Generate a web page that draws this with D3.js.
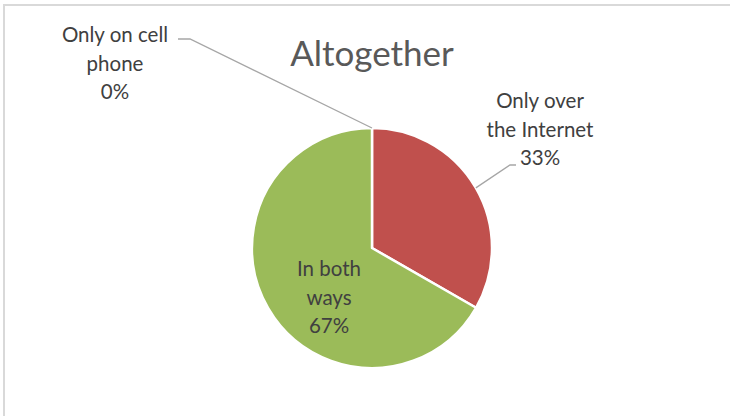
<!DOCTYPE html>
<html lang="en">
<head>
    <meta charset="UTF-8">
    <title>Altogether</title>
    <style>
        body { margin: 0; background: #fff; }
        svg { display: block; }
    </style>
</head>
<body>
    <svg id="pie-chart"></svg>

    <script src="https://d3js.org/d3.v7.min.js"></script>
    <script>
// chart data
const categories = ["Only over the Internet", "In both ways", "Only on cell phone"];
const values = [33.3, 66.7, 0];
const labelLines = [["Only over", "the Internet"], ["In both", "ways"], ["Only on cell", "phone"]];
const colors = ["#C0504D", "#9BBB59", "#4F81BD"];

const width = 730;
const height = 416;
const cx = 372, cy = 248;
const radius = 120;
const font = "Lato, 'Open Sans', sans-serif";

const svg = d3.select("#pie-chart")
    .attr("width", width)
    .attr("height", height);

// chart frame (light gray top and left edge)
svg.append("path")
    .attr("d", `M4,${height} V5 H${width}`)
    .attr("fill", "none")
    .attr("stroke", "#d9d9d9")
    .attr("stroke-width", 2);

svg.append("text")
    .attr("x", cx)
    .attr("y", 52)
    .attr("text-anchor", "middle")
    .attr("dominant-baseline", "central")
    .style("font-family", font)
    .style("font-size", "35px")
    .style("fill", "#595959")
    .text("Altogether");

const data = categories.map((c, i) => ({ name: c, value: values[i], lines: labelLines[i], color: colors[i] }));
const total = d3.sum(values);

const pie = d3.pie().sort(null).value(d => d.value);
const arc = d3.arc().innerRadius(0).outerRadius(radius);

const g = svg.append("g").attr("transform", `translate(${cx},${cy})`);

const arcs = pie(data);

g.selectAll("path.slice")
    .data(arcs.filter(d => d.value > 0))
    .enter()
    .append("path")
    .attr("class", "slice")
    .attr("d", arc)
    .attr("fill", d => d.data.color)
    .attr("stroke", "#fff")
    .attr("stroke-width", 2.5)
    .attr("stroke-linejoin", "round");

// label placement (relative to pie centre)
const placement = {
    "Only over the Internet": { x: 168, y: -148, leader: [[138, -83], [144, -83]] },
    "In both ways": { x: -43, y: 20, leader: null },
    "Only on cell phone": { x: -257, y: -214, leader: [[-182, -209], [-194, -209]] }
};

const lineGap = 28.5;

arcs.forEach(d => {
    const p = placement[d.data.name];
    const pct = Math.round(d.value / total * 100) + "%";
    const lines = d.data.lines.concat([pct]);

    if (p.leader) {
        const mid = (d.startAngle + d.endAngle) / 2;
        const start = [Math.sin(mid) * radius, -Math.cos(mid) * radius];
        g.append("path")
            .attr("d", d3.line()([start].concat(p.leader)))
            .attr("fill", "none")
            .attr("stroke", "#a6a6a6")
            .attr("stroke-width", 1.3);
    }

    const t = g.append("text")
        .attr("text-anchor", "middle")
        .style("font-family", font)
        .style("font-size", "20.5px")
        .style("fill", "#404040");

    lines.forEach((line, i) => {
        t.append("tspan")
            .attr("x", p.x)
            .attr("y", p.y + i * lineGap)
            .attr("dominant-baseline", "central")
            .text(line);
    });
});
    </script>
</body>
</html>
